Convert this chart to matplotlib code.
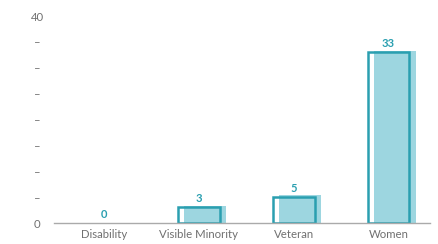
import matplotlib.pyplot as plt
import numpy as np

plt.rcParams['font.family'] = ['Lato', 'DejaVu Sans']

# data
categories = ['Disability', 'Visible Minority', 'Veteran', 'Women']
counts = [0, 3, 5, 33]
ytick_vals = [0, 5, 10, 15, 20, 25, 30, 35, 40]
ytick_labels = ['0', '–', '–', '–', '–', '–', '–', '–', '40']

teal = '#2a9fb0'
light = '#9dd6e0'

fig = plt.figure(figsize=(4.39, 2.44), dpi=100)
ax = fig.add_axes([0.123, 0.086, 0.857, 0.848])

x = np.arange(len(categories))
vals = np.array(counts)
w = 0.44
shown = vals > 0

# shadow-like filled bars, shifted right a bit
ax.bar(x[shown] + 0.065, vals[shown] + 0.35, width=w, color=light,
       linewidth=0, zorder=1)
# outlined bars on top
ax.bar(x[shown], vals[shown], width=w, facecolor='none', edgecolor=teal,
       linewidth=1.8, zorder=2)

for xi, v in zip(x, counts):
    ax.text(xi, v + 0.6, str(v), ha='center', va='bottom', color=teal,
            fontsize=8, fontweight='bold')

ax.set_xlim(-0.53, 3.44)
ax.set_ylim(0, 40)
ax.set_yticks(ytick_vals)
ax.set_yticklabels(ytick_labels)
ax.set_xticks(x)
ax.set_xticklabels(categories)
ax.tick_params(axis='both', length=0, labelsize=8.2, colors='#707070')
ax.tick_params(axis='y', pad=12)
ax.tick_params(axis='x', pad=4)
for lbl in ax.get_yticklabels():
    lbl.set_horizontalalignment('center')

for s in ['top', 'right', 'left']:
    ax.spines[s].set_visible(False)
ax.spines['bottom'].set_color('#aaaaaa')
ax.spines['bottom'].set_linewidth(1.0)

fig.savefig('out.png', dpi=100)
